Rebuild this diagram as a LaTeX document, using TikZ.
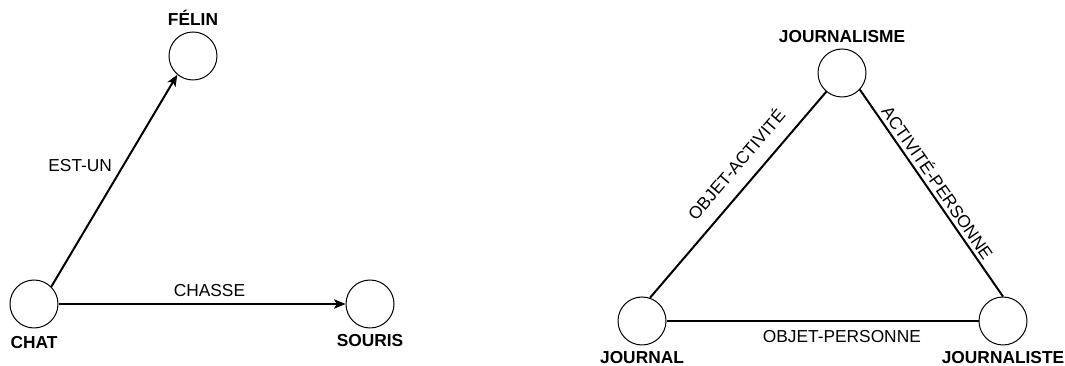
\documentclass[tikz,border=0pt]{standalone}
\usepackage{fontspec}
\setmainfont{Liberation Sans}
\usetikzlibrary{arrows.meta,positioning}
\begin{document}
\begin{tikzpicture}[x=0.75pt,y=-0.75pt,
  concept/.style={circle,draw,line width=0.75pt,minimum size=36pt,inner sep=0pt},
  cname/.style={font=\fontsize{13}{15}\selectfont\bfseries,inner sep=0pt},
  rel/.style={font=\fontsize{13}{15}\selectfont,inner sep=0pt},
  link/.style={line width=1.5pt},
  arrowlink/.style={link,-{Stealth[length=8.5pt,width=7pt,inset=2pt]}}]
\useasboundingbox (0,0) rectangle (1065,366);
% left diagram
\node[concept] (felin) at (193,56) {};
\node[concept] (chat) at (34,304) {};
\node[concept] (souris) at (370,304) {};
\node[cname, above=4.5pt of felin] (felinl) {FÉLIN};
\node[cname, below=5.5pt of chat] (chatl) {CHAT};
\node[cname, below=4.5pt of souris] (sourisl) {SOURIS};
\draw[arrowlink] (chat.45) -- node[rel, left=8pt, pos=0.574] (estun) {EST-UN} (felin.-130);
\draw[arrowlink] (chat.east) -- node[rel, above=4.5pt, pos=0.526] (chasse) {CHASSE} (souris.west);
% right diagram
\node[concept] (jm) at (842,73) {};
\node[concept] (jl) at (642,321) {};
\node[concept] (js) at (1003,321) {};
\node[cname, above=4.5pt of jm] (jml) {JOURNALISME};
\node[cname, below=4.5pt of jl] (jll) {JOURNAL};
\node[cname, below=4.5pt of js] (jsl) {JOURNALISTE};
\draw[link] (jl.71) -- node[rel, sloped, above=10pt, pos=0.58] (oa) {OBJET-ACTIVITÉ} (jm.-130);
\draw[link] (jm.-43) -- node[rel, sloped, above=2.5pt, pos=0.48] (ap) {ACTIVITÉ-PERSONNE} (js.90);
\draw[link] (jl.east) -- node[rel, below=6pt, pos=0.562] (op) {OBJET-PERSONNE} (js.west);
\end{tikzpicture}
\end{document}
